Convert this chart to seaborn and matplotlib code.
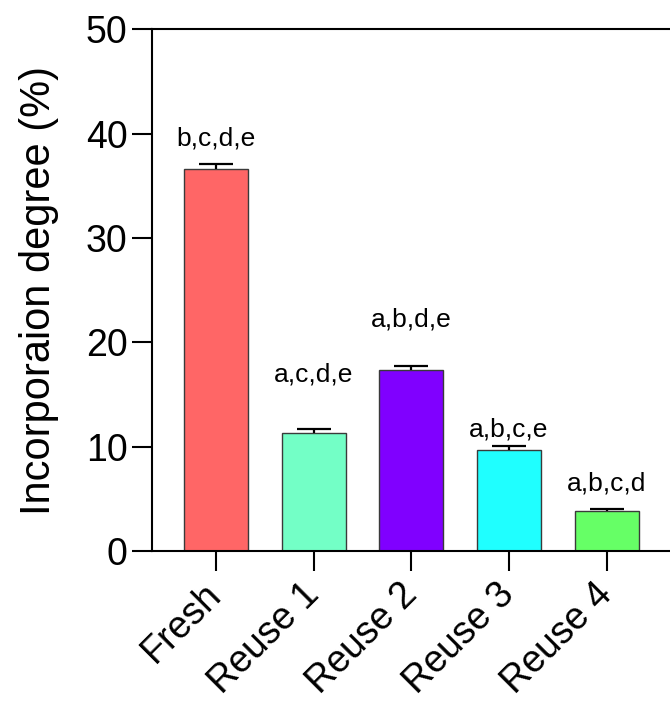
import numpy as np
import pandas as pd
import seaborn as sns
import matplotlib.pyplot as plt

# values
groups = ["Fresh", "Reuse 1", "Reuse 2", "Reuse 3", "Reuse 4"]
means = [36.6, 11.3, 17.35, 9.7, 3.8]
sem = [0.5, 0.4, 0.4, 0.4, 0.25]
letters = ["b,c,d,e", "a,c,d,e", "a,b,d,e", "a,b,c,e", "a,b,c,d"]
letter_y = [38.9, 16.2, 21.5, 11.0, 5.75]
colors = ["#FF6666", "#73FFC6", "#8000FF", "#1FFFFF", "#66FF66"]
yticks = [0, 10, 20, 30, 40, 50]


def main() -> None:
    sns.set_style("ticks")
    plt.rcParams["font.family"] = ["Liberation Sans", "DejaVu Sans"]
    for key in ["text.color", "axes.labelcolor", "xtick.color", "ytick.color"]:
        plt.rcParams[key] = "black"

    df = pd.DataFrame({"group": groups, "value": means})

    fig = plt.figure(figsize=(6.7, 7.01), dpi=100)
    ax = fig.add_axes([0.2264, 0.214, 0.7736, 0.7442])

    sns.barplot(data=df, x="group", y="value", hue="group", palette=colors,
                saturation=1, width=0.655, edgecolor="#3a3a3a", linewidth=1.0,
                legend=False, ax=ax, zorder=2)

    # upper error bars only
    x = np.arange(len(groups))
    err = np.array(sem)
    _, caps, bars = ax.errorbar(x, means, yerr=[np.zeros_like(err), err], fmt="none",
                                ecolor="black", elinewidth=1.6, capsize=12,
                                capthick=1.6, zorder=3)
    caps[0].set_visible(False)

    # significance letters
    for i, (txt, yy) in enumerate(zip(letters, letter_y)):
        ax.text(i, yy, txt, ha="center", va="baseline", fontsize=19)

    ax.set_ylim(0, 50)
    ax.set_xlim(-0.66, 4.65)
    ax.set_yticks(yticks)
    ax.set_xlabel("")
    ax.set_ylabel("Incorporaion degree (%)", fontsize=30, labelpad=19)

    ax.tick_params(axis="both", length=14.5, width=1.5, color="black")
    ax.tick_params(axis="y", labelsize=27, pad=3)
    ax.tick_params(axis="x", labelsize=27, pad=13)
    plt.setp(ax.get_xticklabels(), rotation=45, ha="right", va="center",
             rotation_mode="anchor")

    for side in ["left", "bottom", "top"]:
        ax.spines[side].set_linewidth(1.5)
        ax.spines[side].set_color("black")
    ax.spines["right"].set_visible(False)

    fig.savefig("out.png", dpi=100)
    plt.close(fig)


if __name__ == "__main__":
    main()
